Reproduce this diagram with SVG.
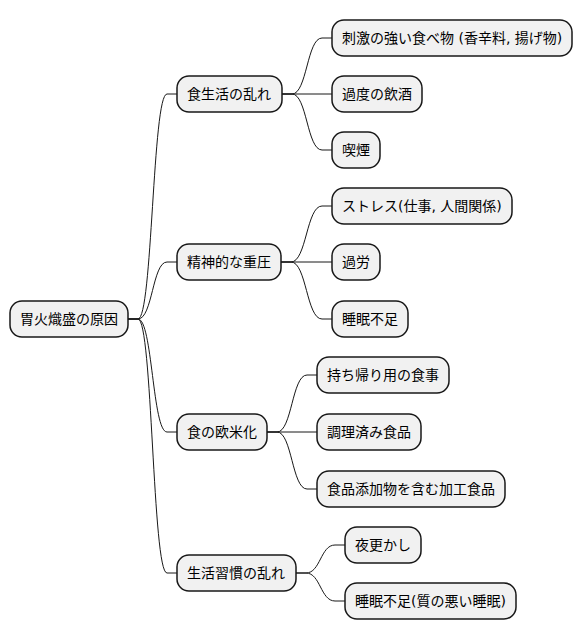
<svg xmlns="http://www.w3.org/2000/svg" width="583" height="640" viewBox="0 0 583 640">
<style>
.n rect{fill:#F1F1F1;stroke:#181818;stroke-width:1.5}
.n text{font-family:"DejaVu Sans","Noto Sans CJK JP",sans-serif;font-size:14px;fill:#000}
.c path{fill:none;stroke:#181818;stroke-width:1}
</style>
<rect width="583" height="640" fill="#FFFFFF"/>
<g class="c" id="connectors">
<path d="M128,319 H138 C152.5,319 152.5,94 167,94 H177"/>
<path d="M128,319 H138 C152.5,319 152.5,262 167,262 H177"/>
<path d="M128,319 H138 C152.5,319 152.5,432 167,432 H177"/>
<path d="M128,319 H138 C152.5,319 152.5,573 167,573 H177"/>
<path d="M282,94 H292 C307,94 307,38 322,38 H332"/>
<path d="M282,94 H332"/>
<path d="M282,94 H292 C307,94 307,150 322,150 H332"/>
<path d="M281,262 H291 C306.5,262 306.5,206 322,206 H332"/>
<path d="M281,262 H332"/>
<path d="M281,262 H291 C306.5,262 306.5,319 322,319 H332"/>
<path d="M267,432 H277 C292,432 292,375 307,375 H317"/>
<path d="M267,432 H317"/>
<path d="M267,432 H277 C292,432 292,489 307,489 H317"/>
<path d="M296,573 H306 C320.5,573 320.5,545 335,545 H345"/>
<path d="M296,573 H306 C320.5,573 320.5,601 335,601 H345"/>
</g>
<g class="n" id="root"><rect x="10" y="301" width="118" height="36" rx="12"/><text x="20" y="324">胃火熾盛の原因</text></g>
<g class="n" id="n1"><rect x="177" y="76" width="105" height="36" rx="12"/><text x="187" y="99">食生活の乱れ</text></g>
<g class="n" id="n1a"><rect x="332" y="20" width="240" height="36" rx="12"/><text x="342" y="43">刺激の強い食べ物 (香辛料, 揚げ物)</text></g>
<g class="n" id="n1b"><rect x="332" y="76" width="90" height="36" rx="12"/><text x="342" y="99">過度の飲酒</text></g>
<g class="n" id="n1c"><rect x="332" y="132" width="48" height="36" rx="12"/><text x="342" y="155">喫煙</text></g>
<g class="n" id="n2"><rect x="177" y="244" width="104" height="36" rx="12"/><text x="187" y="267">精神的な重圧</text></g>
<g class="n" id="n2a"><rect x="332" y="188" width="180" height="36" rx="12"/><text x="342" y="211">ストレス(仕事, 人間関係)</text></g>
<g class="n" id="n2b"><rect x="332" y="244" width="48" height="36" rx="12"/><text x="342" y="267">過労</text></g>
<g class="n" id="n2c"><rect x="332" y="301" width="76" height="36" rx="12"/><text x="342" y="324">睡眠不足</text></g>
<g class="n" id="n3"><rect x="177" y="414" width="90" height="36" rx="12"/><text x="187" y="437">食の欧米化</text></g>
<g class="n" id="n3a"><rect x="317" y="357" width="132" height="36" rx="12"/><text x="327" y="380">持ち帰り用の食事</text></g>
<g class="n" id="n3b"><rect x="317" y="414" width="104" height="36" rx="12"/><text x="327" y="437">調理済み食品</text></g>
<g class="n" id="n3c"><rect x="317" y="471" width="188" height="36" rx="12"/><text x="327" y="494">食品添加物を含む加工食品</text></g>
<g class="n" id="n4"><rect x="177" y="555" width="119" height="36" rx="12"/><text x="187" y="578">生活習慣の乱れ</text></g>
<g class="n" id="n4a"><rect x="345" y="527" width="76" height="36" rx="12"/><text x="355" y="550">夜更かし</text></g>
<g class="n" id="n4b"><rect x="345" y="583" width="171" height="36" rx="12"/><text x="355" y="606">睡眠不足(質の悪い睡眠)</text></g>
</svg>
